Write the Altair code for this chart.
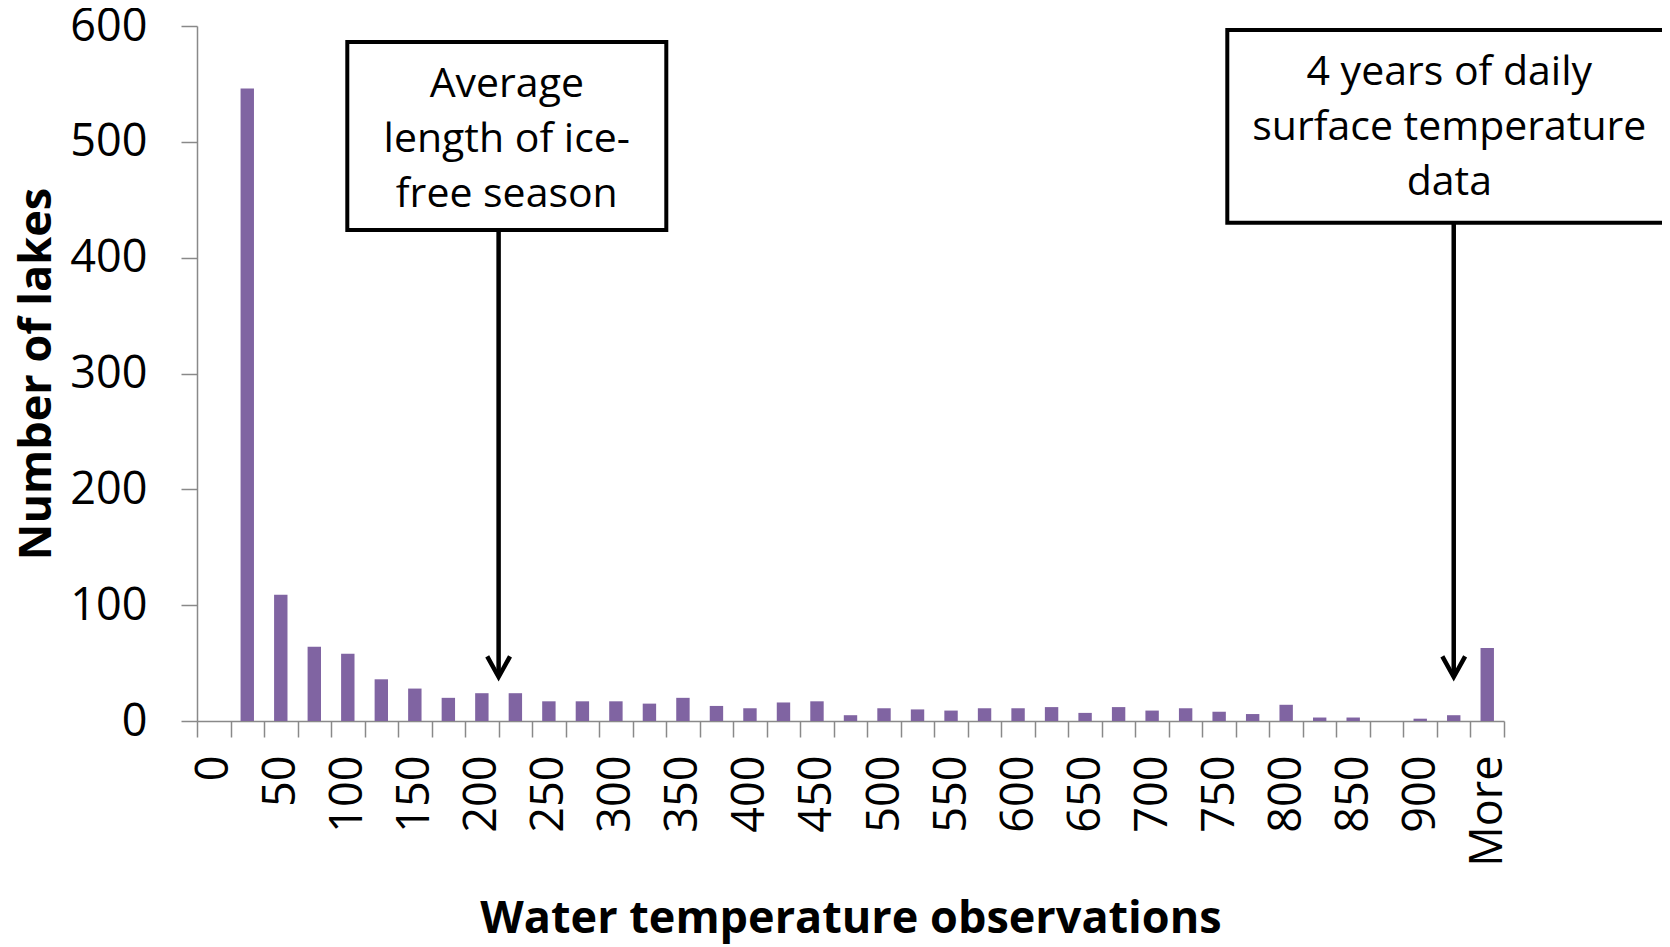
import altair as alt
import pandas as pd

# ---- data ----
bins = ["0", "25", "50", "75", "100", "125", "150", "175", "200", "225",
        "250", "275", "300", "325", "350", "375", "400", "425", "450", "475",
        "500", "525", "550", "575", "600", "625", "650", "675", "700", "725",
        "750", "775", "800", "825", "850", "875", "900", "925", "More"]
lakes = [0, 546, 109, 64, 58, 36, 28, 20, 24, 24,
         17, 17, 17, 15, 20, 13, 11, 16, 17, 5,
         11, 10, 9, 11, 11, 12, 7, 12, 9, 11,
         8, 6, 14, 3, 3, 0, 2, 5, 63]
y_ticks = [0, 100, 200, 300, 400, 500, 600]

note_labels = ["Average\nlength of ice-\nfree season",
               "4 years of daily\nsurface temperature\ndata"]
note_bins = ["225", "925"]          # where each arrow points
note_box_top = [586.2, 596.5]        # in y-axis units
note_box_bottom = [423.9, 430.2]
note_text_y = [539.0, 549.1]
note_tip = [38.0, 38.0]

df = pd.DataFrame({"bin": bins, "lakes": lakes})
notes = pd.DataFrame({"label": note_labels, "bin": note_bins,
                      "top": note_box_top, "bottom": note_box_bottom,
                      "text_y": note_text_y, "tip": note_tip})

FONT = "Open Sans"
PURPLE = "#8064A2"
GREY = "#898989"

xscale = alt.Scale(domain=bins, paddingInner=0, paddingOuter=0)
yscale = alt.Scale(domain=[0, 600], nice=False)

x_axis = alt.Axis(
    title="Water temperature observations",
    tickBand="extent", tickSize=16, labelAngle=-90, labelPadding=18,
    labelFontSize=45, labelOverlap=False, labelBound=False, labelFlush=False,
    labelExpr="datum.value == 'More' || toNumber(datum.value) % 50 == 0 ? datum.label : ''",
    titleFontSize=45, titleFontWeight="bold", titlePadding=30, grid=False,
)
y_axis = alt.Axis(
    title="Number of lakes", values=y_ticks, tickSize=16, labelPadding=34,
    labelFontSize=45, titleFontSize=45, titleFontWeight="bold",
    titlePadding=10, grid=False,
)

bars = alt.Chart(df).mark_bar(color=PURPLE, width=alt.RelativeBandSize(0.4)).encode(
    x=alt.X("bin:N", sort=bins, scale=xscale, axis=x_axis),
    y=alt.Y("lakes:Q", scale=yscale, axis=y_axis),
)

def note_layers(i, band_pos, box_x0, box_x1, text_x):
    d = notes.iloc[[i]]
    xe = alt.X("bin:N", sort=bins, scale=xscale, axis=x_axis, bandPosition=band_pos)
    stem = alt.Chart(d).mark_rule(color="black", strokeWidth=4.5).encode(
        x=xe, y=alt.Y("bottom:Q", scale=yscale, axis=y_axis), y2="tip:Q")
    head = alt.Chart(d).mark_point(
        shape="M-1,-1.8L0,0L1,-1.8", filled=False, stroke="black",
        strokeWidth=4.5, size=520, opacity=1, strokeJoin="miter").encode(
        x=xe, y=alt.Y("tip:Q", scale=yscale, axis=y_axis))
    box = alt.Chart(d).mark_rect(fill="white", stroke="black", strokeWidth=4).encode(
        x=alt.value(box_x0), x2=alt.value(box_x1),
        y=alt.Y("top:Q", scale=yscale, axis=y_axis), y2="bottom:Q")
    txt = alt.Chart(d).mark_text(
        font=FONT, fontSize=41, lineBreak="\n", lineHeight=55,
        align="center", baseline="alphabetic", color="black").encode(
        x=alt.value(text_x), y=alt.Y("text_y:Q", scale=yscale, axis=y_axis),
        text="label:N")
    return [stem, head, box, txt]

layers = [bars] + note_layers(0, 0, 150.3, 469.3, 309.8) + note_layers(1, 0.5, 1030.3, 1480, 1252.3)

chart = alt.layer(*layers).properties(
    width=1307, height=695,
    autosize=alt.AutoSizeParams(type="none"),
    padding={"left": 189, "top": 18, "right": 158, "bottom": 226},
).configure_view(stroke=None).configure_axis(
    labelFont=FONT, titleFont=FONT, labelColor="black", titleColor="black",
    domainColor=GREY, tickColor=GREY, domainWidth=1.5, tickWidth=1.5,
)

chart.save("out.html", embed_options={"renderer": "svg", "actions": False})
